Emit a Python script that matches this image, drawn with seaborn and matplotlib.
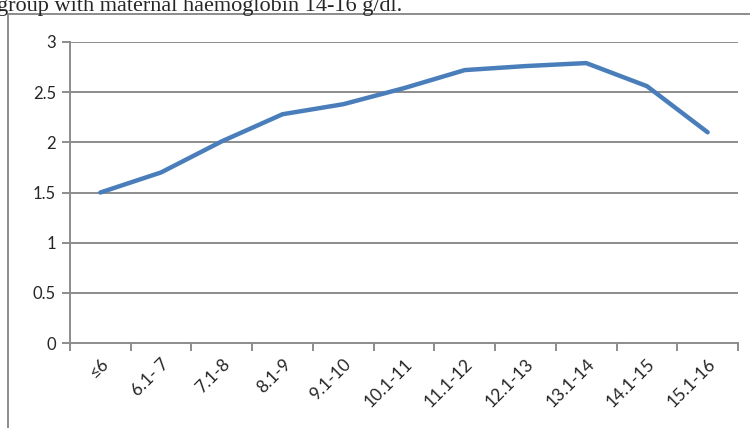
import numpy as np
import matplotlib
matplotlib.use('Agg')
import matplotlib.pyplot as plt
from matplotlib.lines import Line2D
import seaborn as sns

categories = ['≤6', '6.1- 7', '7.1-8', '8.1-9', '9.1-10', '10.1-11',
              '11.1-12', '12.1-13', '13.1-14', '14.1-15', '15.1-16']
values = [1.50, 1.70, 2.01, 2.28, 2.38, 2.54, 2.72, 2.76, 2.79, 2.56, 2.10]
yticks = [0, 0.5, 1, 1.5, 2, 2.5, 3]

sns.set_style('white')
plt.rcParams['font.family'] = ['Lato', 'DejaVu Sans']

grey = '#8c8c8c'
fig = plt.figure(figsize=(7.5, 4.28), dpi=100)
ax = fig.add_axes([70/750, 1-343/428, 668/750, 301/428])

pos = np.arange(len(categories))
sns.lineplot(x=pos, y=values, ax=ax, color='#4a7ebb', linewidth=3.2,
             solid_capstyle='round')

ax.set_xlim(-0.5, len(categories) - 0.5)
ax.set_ylim(0, 3)
ax.set_yticks(yticks)
ax.set_yticklabels(['0', '0.5', '1', '1.5', '2', '2.5', '3'])
for y in yticks[1:]:
    ax.axhline(y, color=grey, linewidth=1.4, zorder=0)

ax.set_xticks(pos)
ax.set_xticklabels(categories, rotation=45, ha='right', rotation_mode='anchor')
ax.set_xticks(np.arange(-0.5, len(categories)), minor=True)
ax.tick_params(axis='x', which='major', length=0, pad=9, labelsize=12.5)
ax.tick_params(axis='x', which='minor', length=6, width=1.4, color=grey,
               direction='out', bottom=True)
ax.tick_params(axis='y', length=6, width=1.4, color=grey, direction='out',
               left=True, labelsize=12, pad=4)

for s in ['top', 'right']:
    ax.spines[s].set_visible(False)
for s in ['left', 'bottom']:
    ax.spines[s].set_color(grey)
    ax.spines[s].set_linewidth(1.4)
ax.set_xlabel('')
ax.set_ylabel('')

# box borders of the page figure
fig.add_artist(Line2D([8/750, 8/750], [0, 1-14/428], color=grey, linewidth=1.4))
fig.add_artist(Line2D([8/750, 1], [1-14/428, 1-14/428], color=grey, linewidth=1.4))

fig.text(-0.004, 1-11/428, 'group with maternal haemoglobin 14-16 g/dl.',
         family=['Liberation Serif', 'DejaVu Serif'], fontsize=16,
         ha='left', va='baseline')

fig.savefig('out.png', dpi=100)
